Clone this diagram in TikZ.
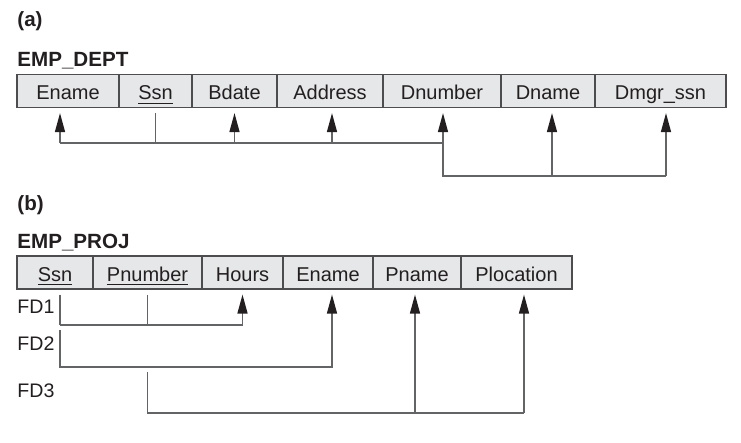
\documentclass[tikz,border=0pt]{standalone}
\usepackage{fontspec}
\setmainfont{Liberation Sans}
\usetikzlibrary{positioning,arrows.meta}

\definecolor{cellgray}{HTML}{E6E7E8}
\definecolor{framegray}{HTML}{4D4D4F}
\definecolor{linkgray}{HTML}{636466}
\definecolor{inkdark}{HTML}{231F20}

\tikzset{
  attr/.style={draw=framegray, line width=0.8pt, fill=cellgray, outer sep=0pt, inner sep=0pt,
    minimum height=16.5pt, text height=9pt, text depth=0pt, text=inkdark,
    font=\fontsize{10}{12}\selectfont},
  title/.style={anchor=base west, inner sep=0pt, text=inkdark,
    font=\fontsize{10.3}{12}\selectfont\bfseries},
  fdlabel/.style={anchor=base west, inner sep=0pt, text=inkdark,
    font=\fontsize{9.8}{11}\selectfont},
  link/.style={draw=linkgray, line width=0.7pt},
  dep/.style={link, -{Triangle[length=9.5pt,width=5pt,color=inkdark]}, shorten >=2.8pt},
  gap/.style={shorten <=2.8pt},
}

\begin{document}
\begin{tikzpicture}[x=0.5pt,y=-0.5pt]
\useasboundingbox (0,0) rectangle (741,443);

% (a) EMP_DEPT
\node[title] (la) at (17,27) {(a)};
\node[title] (empdept) at (17,67) {EMP\_DEPT};

\node[attr, minimum width=51pt, anchor=north west] (ename) at (17,74.5) {Ename};
\node[attr, minimum width=36.5pt, right=0pt of ename] (ssn) {\underline{Ssn}};
\node[attr, minimum width=42.5pt, right=0pt of ssn] (bdate) {Bdate};
\node[attr, minimum width=53pt, right=0pt of bdate] (address) {Address};
\node[attr, minimum width=59pt, right=0pt of address] (dnumber) {Dnumber};
\node[attr, minimum width=47pt, right=0pt of dnumber] (dname) {Dname};
\node[attr, minimum width=65.5pt, right=0pt of dname] (dmgr) {Dmgr\_ssn};

\coordinate (s-ename) at ([xshift=-4pt]ename.south);
\coordinate (s-ssn) at (ssn.south);
\coordinate (s-bdate) at (bdate.south);
\coordinate (s-address) at ([xshift=1pt]address.south);
\coordinate (s-dnumber) at ([xshift=0.5pt]dnumber.south);
\coordinate (s-dname) at ([xshift=2pt]dname.south);
\coordinate (s-dmgr) at ([xshift=2.75pt]dmgr.south);

\coordinate (barA) at (0,143);
\coordinate (barB) at (0,176);

\draw[link, gap] (s-ssn) -- (s-ssn |- barA);
\draw[link] (s-ename |- barA) -- (s-dnumber |- barA) -- (s-dnumber |- barB) -- (s-dmgr |- barB);
\foreach \c in {ename,bdate,address,dnumber}
  \draw[dep] (s-\c |- barA) -- (s-\c);
\foreach \c in {dname,dmgr}
  \draw[dep] (s-\c |- barB) -- (s-\c);

% (b) EMP_PROJ
\node[title] (lb) at (17,211) {(b)};
\node[title] (empproj) at (17,249) {EMP\_PROJ};

\node[attr, minimum width=38pt, anchor=north west] (ssnp) at (17,256) {\underline{Ssn}};
\node[attr, minimum width=54.5pt, right=0pt of ssnp] (pnumber) {\underline{Pnumber}};
\node[attr, minimum width=40.5pt, right=0pt of pnumber] (hours) {Hours};
\node[attr, minimum width=45pt, right=0pt of hours] (enamep) {Ename};
\node[attr, minimum width=44pt, right=0pt of enamep] (pname) {Pname};
\node[attr, minimum width=55.5pt, right=0pt of pname] (plocation) {Plocation};

\node[fdlabel] (fd1) at (17,314) {FD1};
\node[fdlabel] (fd2) at (17,351) {FD2};
\node[fdlabel] (fd3) at (17,398) {FD3};

\coordinate (s-ssnp) at ([xshift=2.5pt]ssnp.south);
\coordinate (s-pnumber) at (pnumber.south);
\coordinate (s-hours) at (hours.south);
\coordinate (s-enamep) at ([xshift=2pt]enamep.south);
\coordinate (s-pname) at ([xshift=-1pt]pname.south);
\coordinate (s-plocation) at ([xshift=3.75pt]plocation.south);

\coordinate (barone) at (0,325);
\coordinate (toptwo) at (0,330);
\coordinate (bartwo) at (0,367);
\coordinate (topthree) at (0,372);
\coordinate (barthree) at (0,413);

% FD1
\draw[link, gap] (s-ssnp) -- (s-ssnp |- barone);
\draw[link, gap] (s-pnumber) -- (s-pnumber |- barone);
\draw[dep] (s-ssnp |- barone) -- (s-hours |- barone) -- (s-hours);
% FD2
\draw[dep] (s-ssnp |- toptwo) -- (s-ssnp |- bartwo) -- (s-enamep |- bartwo) -- (s-enamep);
% FD3
\draw[link] (s-pnumber |- topthree) -- (s-pnumber |- barthree) -- (s-plocation |- barthree);
\draw[dep] (s-pname |- barthree) -- (s-pname);
\draw[dep] (s-plocation |- barthree) -- (s-plocation);

\end{tikzpicture}
\end{document}
